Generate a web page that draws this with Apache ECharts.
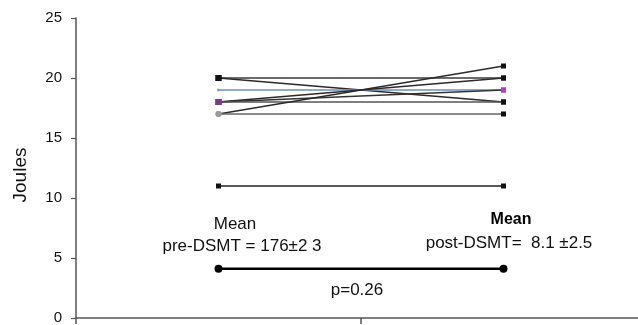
<!DOCTYPE html>
<html><head><meta charset="utf-8">
<script src="https://cdn.jsdelivr.net/npm/echarts@6/dist/echarts.min.js"></script>
<style>html,body{margin:0;padding:0;background:#fff}#c{width:638px;height:325px}</style>
</head><body><div id="c"></div>
<script>
var categories = ['pre-DSMT', 'post-DSMT'];
var yTicks = [0, 5, 10, 15, 20, 25];
var subjectPre  = [20, 20, 19, 18, 18, 18, 17, 17, 11];
var subjectPost = [20, 18, 19, 19, 20, 18, 21, 17, 11];
var meanValues = [4.1, 4.1];
var labels = {
  meanPre: 'Mean', prePart: 'pre-DSMT = 176±2 3',
  meanPost: 'Mean', postPart: 'post-DSMT=  8.1 ±2.5',
  pval: 'p=0.26', yName: 'Joules'
};

var lineColors = ['#3a3a3a','#2a2a2a','#6f8fb8','#333','#2a2a2a','#555','#2a2a2a','#666','#222'];
var preMarker = [
  {c:'#111', s:'rect', z:6}, {c:'#111', s:'rect', z:6}, {c:'#7fa4cc', s:'circle', z:3},
  {c:'#7a3a8a', s:'rect', z:6}, {c:'#7a3a8a', s:'rect', z:6}, {c:'#7a3a8a', s:'rect', z:6},
  {c:'#999', s:'circle', z:6}, {c:'#999', s:'circle', z:6}, {c:'#111', s:'rect', z:5}
];
var postMarker = [
  {c:'#111', s:'rect', z:5}, {c:'#111', s:'rect', z:5}, {c:'#b040c0', s:'rect', z:5},
  {c:'#b040c0', s:'rect', z:5}, {c:'#111', s:'rect', z:5}, {c:'#111', s:'rect', z:5},
  {c:'#111', s:'rect', z:5}, {c:'#111', s:'rect', z:5}, {c:'#111', s:'rect', z:5}
];

var series = [];
for (var i = 0; i < subjectPre.length; i++) {
  series.push({
    type: 'line', silent: true, animation: false,
    lineStyle: {color: lineColors[i], width: 1.5},
    data: [
      {value: subjectPre[i], symbol: preMarker[i].s, symbolSize: preMarker[i].z, itemStyle: {color: preMarker[i].c}},
      {value: subjectPost[i], symbol: postMarker[i].s, symbolSize: postMarker[i].z, itemStyle: {color: postMarker[i].c}}
    ]
  });
}
series.push({
  type: 'line', silent: true, animation: false,
  lineStyle: {color: '#000', width: 2.5},
  symbol: 'circle', symbolSize: 8, itemStyle: {color: '#000'},
  data: meanValues
});

var chart = echarts.init(document.getElementById('c'));
var font = 'Liberation Sans, Arial, sans-serif';
chart.setOption({
  animation: false,
  grid: {left: 76, top: 18, width: 570, bottom: 7, containLabel: false, outerBoundsMode: 'none'},
  xAxis: {
    type: 'category', data: categories, boundaryGap: true,
    axisLine: {lineStyle: {color: '#555', width: 1.5}},
    axisTick: {show: true, length: 6, lineStyle: {color: '#555', width: 1.5}},
    axisLabel: {show: false}
  },
  yAxis: {
    type: 'value', min: yTicks[0], max: yTicks[yTicks.length - 1], interval: 5,
    axisLine: {show: true, lineStyle: {color: '#555', width: 1.5}},
    axisTick: {show: true, length: 5, lineStyle: {color: '#555', width: 1.2}},
    splitLine: {show: false},
    axisLabel: {color: '#111', fontSize: 15, fontFamily: font, margin: 14,
      formatter: function (v) { return yTicks.indexOf(v) >= 0 ? String(v) : ''; }}
  },
  graphic: [
    {type: 'text', x: 21, y: 175, rotation: Math.PI / 2, style: {text: labels.yName, fill: '#111', font: '19px ' + font, align: 'center', verticalAlign: 'middle'}},
    {type: 'text', x: 235, y: 224, style: {text: labels.meanPre, fill: '#111', font: '17px ' + font, align: 'center', verticalAlign: 'middle'}},
    {type: 'text', x: 242, y: 246, style: {text: labels.prePart, fill: '#111', font: '17px ' + font, align: 'center', verticalAlign: 'middle'}},
    {type: 'text', x: 511, y: 220, style: {text: labels.meanPost, fill: '#000', font: 'bold 16px ' + font, align: 'center', verticalAlign: 'middle'}},
    {type: 'text', x: 509, y: 243, style: {text: labels.postPart, fill: '#111', font: '17px ' + font, align: 'center', verticalAlign: 'middle'}},
    {type: 'text', x: 357, y: 290, style: {text: labels.pval, fill: '#111', font: '17px ' + font, align: 'center', verticalAlign: 'middle'}}
  ],
  series: series
});
</script></body></html>
